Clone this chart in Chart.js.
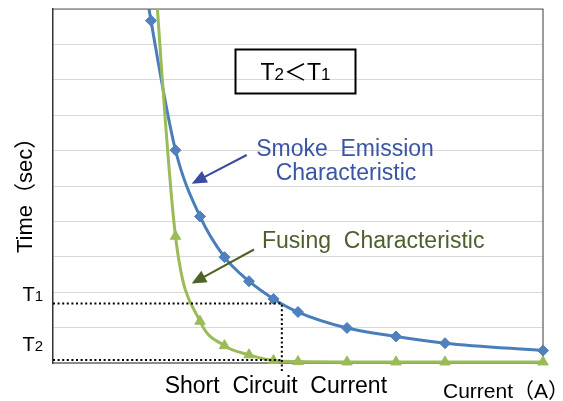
<!DOCTYPE html>
<html><head><meta charset="utf-8">
<script src="https://cdn.jsdelivr.net/npm/chart.js@4/dist/chart.umd.min.js"></script>
<style>html,body{margin:0;padding:0;background:#fff;overflow:hidden}#wrap{width:563px;height:401px;position:relative}</style>
</head><body><div id="wrap"><canvas id="c" width="563" height="401"></canvas></div>
<script>
// Current (A) and time (sec)
const smokeCurrent = [3, 4, 5, 6, 7, 8, 9, 10, 12, 14, 16, 20];
const smokeTime    = [14, 9.67, 6.01, 4.14, 2.99, 2.31, 1.81, 1.44, 0.99, 0.75, 0.56, 0.35];
const fuseCurrent  = [4, 5, 6, 7, 8, 9, 10, 12, 14, 16, 20];
const fuseTime     = [12.5, 3.58, 1.18, 0.49, 0.23, 0.07, 0.04, 0.03, 0.03, 0.03, 0.03];
const shortCircuitCurrent = 9.34;
const timeT1 = 1.68;
const timeT2 = 0.085;
const xRange = [0, 20];
const yRange = [0, 10];
const guideBelowAxis = -0.28;

const FONT = '"Liberation Sans", "Noto Sans CJK JP", sans-serif';
const toXY = (xs, ys) => xs.map((x, i) => ({x, y: ys[i]}));
const CLIP = {left: 0, top: 0, right: 10, bottom: 14};

function drawParts(ctx, parts, x, y, align) {
  let total = 0;
  parts.forEach(p => { ctx.font = p[1] + 'px ' + FONT; total += ctx.measureText(p[0]).width; });
  let cx = align === 'center' ? x - total / 2 : x;
  ctx.textAlign = 'left';
  parts.forEach(p => { ctx.font = p[1] + 'px ' + FONT; ctx.fillText(p[0], cx, y); cx += ctx.measureText(p[0]).width; });
}
function arrow(ctx, x1, y1, x2, y2, color, lw, headLen, headHalf) {
  const dx = x2 - x1, dy = y2 - y1, len = Math.hypot(dx, dy), ux = dx / len, uy = dy / len;
  const bx = x2 - ux * headLen, by = y2 - uy * headLen;
  ctx.strokeStyle = color; ctx.lineWidth = lw; ctx.setLineDash([]);
  ctx.beginPath(); ctx.moveTo(x1, y1); ctx.lineTo(bx + ux * 2, by + uy * 2); ctx.stroke();
  ctx.fillStyle = color; ctx.beginPath();
  ctx.moveTo(x2, y2); ctx.lineTo(bx - uy * headHalf, by + ux * headHalf); ctx.lineTo(bx + uy * headHalf, by - ux * headHalf);
  ctx.closePath(); ctx.fill();
}

const framePlugin = {
  id: 'frame',
  beforeDatasetsDraw(chart) {
    const {ctx, chartArea: a} = chart;
    ctx.save();
    ctx.strokeStyle = '#5a5a5a'; ctx.lineWidth = 1.2;
    ctx.beginPath(); ctx.moveTo(a.left, a.top); ctx.lineTo(a.right, a.top); ctx.lineTo(a.right, a.bottom); ctx.stroke();
    ctx.restore();
  }
};

const notesPlugin = {
  id: 'notes',
  afterDraw(chart) {
    const {ctx} = chart;
    const xs = chart.scales.x, ys = chart.scales.y;
    ctx.save();
    ctx.fillStyle = '#000'; ctx.textBaseline = 'alphabetic';
    // Y axis title
    ctx.save(); ctx.translate(31.5, 253); ctx.rotate(-Math.PI / 2);
    ctx.font = '22px ' + FONT; ctx.textAlign = 'left'; ctx.fillText('Time（sec）', 0, 0);
    ctx.restore();
    // T1 / T2 labels
    drawParts(ctx, [['T', 20], ['1', 15]], 22.5, ys.getPixelForValue(timeT1) - 2.4, 'left');
    drawParts(ctx, [['T', 20], ['2', 15]], 22.5, ys.getPixelForValue(timeT2) - 9.4, 'left');
    // x labels
    ctx.font = '23px ' + FONT; ctx.textAlign = 'center';
    ctx.fillText('Short  Circuit  Current', xs.getPixelForValue(shortCircuitCurrent) - 6, 393.3);
    ctx.font = '21px ' + FONT; ctx.textAlign = 'left';
    ctx.fillText('Current（A）', 443, 398.3);
    // box
    ctx.strokeStyle = '#000'; ctx.lineWidth = 2;
    ctx.strokeRect(235.5, 49.5, 120, 44);
    drawParts(ctx, [['T', 23], ['2', 17], ['＜', 23], ['T', 23], ['1', 17]], 295.4, 80, 'center');
    // Smoke emission
    ctx.fillStyle = '#3b55a6'; ctx.font = '23px ' + FONT; ctx.textAlign = 'center';
    ctx.fillText('Smoke  Emission', 345, 156);
    ctx.fillText('Characteristic', 346, 179.5);
    arrow(ctx, 246.7, 155, 191.7, 183.7, '#3a4ba0', 2, 15, 6.5);
    // Fusing
    ctx.fillStyle = '#4e5f2e'; ctx.textAlign = 'left';
    ctx.fillText('Fusing  Characteristic', 262, 248.3);
    arrow(ctx, 254, 249.5, 191.7, 283.5, '#4f6228', 2, 14.5, 6.5);
    ctx.restore();
  }
};

new Chart(document.getElementById('c'), {
  type: 'line',
  data: {
    datasets: [
      {
        data: [{x: xRange[0], y: timeT1}, {x: shortCircuitCurrent, y: timeT1}, {x: shortCircuitCurrent, y: guideBelowAxis}],
        borderColor: '#000', borderWidth: 2, borderDash: [2, 2.6], pointRadius: 0, tension: 0, clip: CLIP
      },
      {
        data: [{x: xRange[0], y: timeT2}, {x: shortCircuitCurrent, y: timeT2}],
        borderColor: '#000', borderWidth: 2, borderDash: [2, 2.6], pointRadius: 0, tension: 0, clip: CLIP
      },
      {
        label: 'Fusing Characteristic',
        data: toXY(fuseCurrent, fuseTime),
        borderColor: '#9bbb59', backgroundColor: '#9bbb59', borderWidth: 3,
        pointStyle: 'triangle', pointRadius: 6, pointBorderWidth: 1, pointBorderColor: '#9bbb59',
        cubicInterpolationMode: 'monotone', clip: CLIP
      },
      {
        label: 'Smoke Emission Characteristic',
        data: toXY(smokeCurrent, smokeTime),
        borderColor: '#4a7ebb', backgroundColor: '#4f81bd', borderWidth: 3,
        pointStyle: 'rectRot', pointRadius: 5.5, pointBorderWidth: 1, pointBorderColor: '#4a7ebb',
        cubicInterpolationMode: 'monotone', clip: CLIP
      }
    ]
  },
  options: {
    responsive: false, animation: false,
    layout: {padding: {top: 9, right: 20, left: 0, bottom: 0}},
    plugins: {legend: {display: false}, tooltip: {enabled: false}},
    elements: {line: {capBezierPoints: false}},
    scales: {
      x: {
        type: 'linear', min: xRange[0], max: xRange[1],
        ticks: {display: false}, grid: {display: false, drawTicks: false},
        border: {display: true, color: '#8c8c8c', width: 2},
        afterFit(s) { s.height = 38; }
      },
      y: {
        type: 'linear', min: yRange[0], max: yRange[1],
        ticks: {display: false, stepSize: 1}, grid: {color: '#d9d9d9', lineWidth: 1, drawTicks: false},
        border: {display: true, color: '#333', width: 1.5},
        afterFit(s) { s.width = 53; }
      }
    }
  },
  plugins: [framePlugin, notesPlugin]
});
</script></body></html>
